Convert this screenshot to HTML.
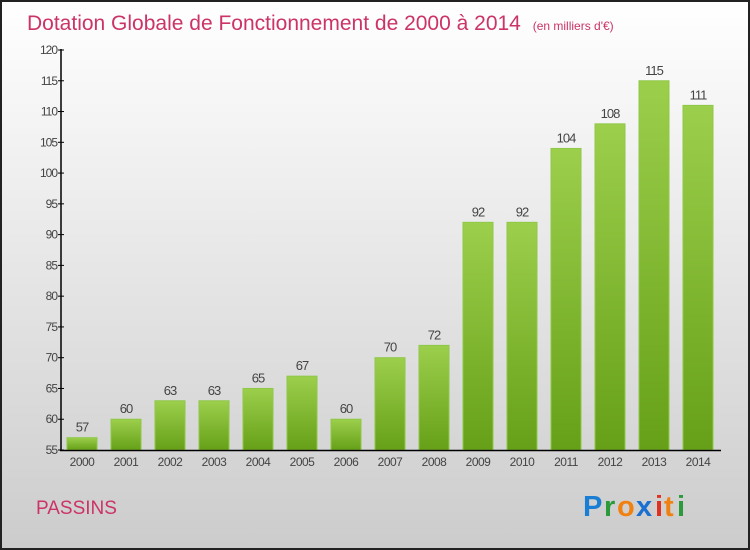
<!DOCTYPE html>
<html><head><meta charset="utf-8"><style>
body{margin:0}
svg{display:block;font-family:"Liberation Sans",sans-serif}
</style></head><body>
<svg id="c" width="750" height="550" viewBox="0 0 750 550">
<defs>
<linearGradient id="bg" x1="0" y1="0" x2="0" y2="1"><stop offset="0" stop-color="#ffffff"/><stop offset="1" stop-color="#cccccc"/></linearGradient>
<linearGradient id="bar" x1="0" y1="0" x2="0" y2="1"><stop offset="0" stop-color="#9ccf4c"/><stop offset="1" stop-color="#66a018"/></linearGradient>
</defs>
<rect x="1" y="1" width="748" height="548" fill="url(#bg)" stroke="#222" stroke-width="2"/>
<text x="27" y="30" font-size="21" fill="#cc3366">Dotation Globale de Fonctionnement de 2000 à 2014 <tspan font-size="12" dx="6">(en milliers d'€)</tspan></text>
<g id="yaxis"></g><g id="bars"></g>
<line x1="61" y1="49" x2="61" y2="451" stroke="#000" stroke-width="1.5"/>
<line x1="60" y1="450.5" x2="721" y2="450.5" stroke="#000" stroke-width="1.5"/>
<text x="36" y="514" font-size="19" fill="#cc3366">PASSINS</text>
<g font-size="29" font-weight="bold">
<text x="583" y="516" fill="#1a7fd4">P</text><text x="604" y="516" fill="#2a9a3a">r</text><text x="617" y="516" fill="#f08010">o</text><text x="636" y="516" fill="#1a6fd0">x</text><text x="655" y="516" fill="#e03020">i</text><text x="664" y="516" fill="#f08010">t</text><text x="677" y="516" fill="#2a9a3a">i</text>
</g>
</svg>
<script>
const years=["2000","2001","2002","2003","2004","2005","2006","2007","2008","2009","2010","2011","2012","2013","2014"];
const values=[57,60,63,63,65,67,60,70,72,92,92,104,108,115,111];
const yTicks=[55,60,65,70,75,80,85,90,95,100,105,110,115,120];
const NS="http://www.w3.org/2000/svg";
const y=v=>450-(v-55)*400/65;
const x=i=>82+i*44;
function mk(t,a,p,txt){const e=document.createElementNS(NS,t);for(const k in a)e.setAttribute(k,a[k]);if(txt!==undefined)e.textContent=txt;p.appendChild(e);return e;}
const ya=document.getElementById('yaxis'),bg=document.getElementById('bars');
yTicks.forEach(v=>{
 const t=mk('text',{x:57,y:y(v)+4,'font-size':12,fill:'#444','text-anchor':'end','letter-spacing':'-1'},ya,v);
 
 
 const l=mk('line',{x1:58,x2:64,y1:y(v),y2:y(v),stroke:'#000'},ya);
 
 
});
values.forEach((v,i)=>{
 const r=mk('rect',{x:x(i)-15,y:y(v),width:30,height:450-y(v),fill:'url(#bar)',stroke:'#8fc848','stroke-width':1},bg);
 
 
 const t=mk('text',{x:x(i),y:y(v)-6,'font-size':13,fill:'#444','text-anchor':'middle','letter-spacing':'-1'},bg,v);
 
 
 const xl=mk('text',{x:x(i),y:466,'font-size':12,fill:'#444','text-anchor':'middle','letter-spacing':'-0.5'},bg,years[i]);
 
 
});
</script>
</body></html>
